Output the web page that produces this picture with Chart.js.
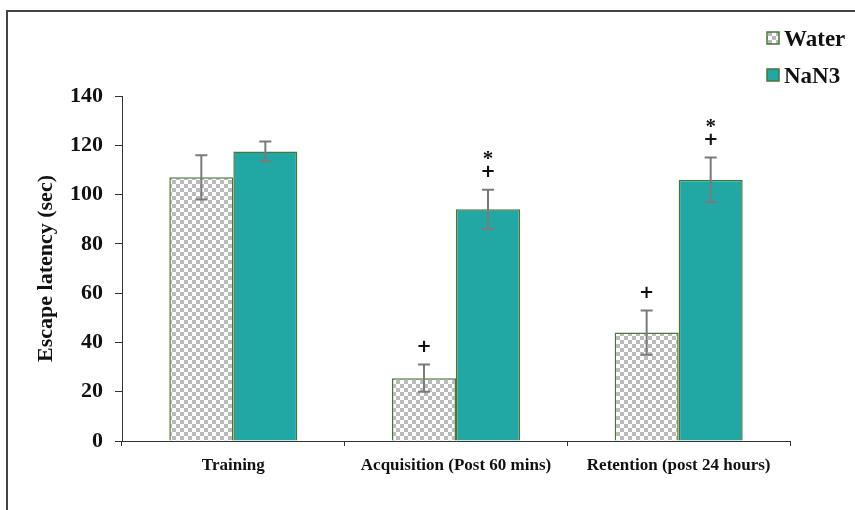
<!DOCTYPE html>
<html>
<head>
<meta charset="utf-8">
<script src="https://cdn.jsdelivr.net/npm/chart.js@4.4.1/dist/chart.umd.min.js"></script>
<style>
  html, body { margin: 0; padding: 0; background: #ffffff; }
  #wrap { width: 855px; height: 510px; position: relative; }
</style>
</head>
<body>
<div id="wrap"><canvas id="c" width="855" height="510"></canvas></div>
<script>
// Escape latency per phase, mean ± error
const categories = ['Training', 'Acquisition (Post 60 mins)', 'Retention (post 24 hours)'];
const seriesNames = ['Water', 'NaN3'];
const waterValues = [107, 25.5, 44];
const waterErrors = [9, 5.5, 9];
const nan3Values = [117.5, 94, 106];
const nan3Errors = [4, 8, 9];
// significance markers, listed bottom to top
const waterMarks = [[], ['+'], ['+']];
const nan3Marks = [[], ['+', '*'], ['+', '*']];
const yTicks = [0, 20, 40, 60, 80, 100, 120, 140];

const SERIF = '"Liberation Serif", "Times New Roman", Times, serif';
const SANS = '"DejaVu Sans", Arial, sans-serif';
const TEAL = '#21a8a4';
const EDGE = '#4a7538';

function checkerPattern(cell) {
  const c = document.createElement('canvas');
  c.width = c.height = cell * 2;
  const g = c.getContext('2d');
  g.fillStyle = '#ffffff';
  g.fillRect(0, 0, cell * 2, cell * 2);
  g.fillStyle = '#bababa';
  g.fillRect(0, 0, cell, cell);
  g.fillRect(cell, cell, cell, cell);
  return g.createPattern(c, 'repeat');
}
const ctx0 = document.getElementById('c').getContext('2d');
const checker = checkerPattern(4);

const errorsByDataset = [waterErrors, nan3Errors];
const marksByDataset = [waterMarks, nan3Marks];

// outer frame lines (top and left)
const framePlugin = {
  id: 'frame',
  beforeDraw(chart) {
    const g = chart.ctx;
    g.save();
    g.strokeStyle = '#444444';
    g.lineWidth = 2;
    g.beginPath();
    g.moveTo(7, 510);
    g.lineTo(7, 11);
    g.lineTo(855, 11);
    g.stroke();
    g.restore();
  }
};

// error whiskers and significance markers
const errorBarPlugin = {
  id: 'errorBars',
  afterDatasetsDraw(chart) {
    const g = chart.ctx;
    const y = chart.scales.y;
    g.save();
    chart.data.datasets.forEach((ds, i) => {
      const meta = chart.getDatasetMeta(i);
      meta.data.forEach((bar, j) => {
        const v = ds.data[j];
        const e = errorsByDataset[i][j];
        const top = y.getPixelForValue(v + e);
        const bot = y.getPixelForValue(v - e);
        const x = bar.x;
        g.strokeStyle = '#7a7a7a';
        g.lineWidth = 2;
        g.beginPath();
        g.moveTo(x, top); g.lineTo(x, bot);
        g.moveTo(x - 6, top); g.lineTo(x + 6, top);
        g.moveTo(x - 6, bot); g.lineTo(x + 6, bot);
        g.stroke();
        const marks = marksByDataset[i][j];
        g.fillStyle = '#111111';
        g.textAlign = 'center';
        g.textBaseline = 'middle';
        marks.forEach((m, k) => {
          if (m === '+') {
            g.font = 'bold 18px ' + SANS;
            g.fillText(m, x, top - 17 - k * 15);
          } else {
            g.font = 'bold 21px ' + SERIF;
            g.fillText(m, x, top - 30 - (k - 1) * 15);
          }
        });
      });
    });
    g.restore();
  }
};

// legend in the top right corner
const legendPlugin = {
  id: 'cornerLegend',
  afterDraw(chart) {
    const g = chart.ctx;
    const fills = [checker, TEAL];
    const rows = [38, 75];
    g.save();
    seriesNames.forEach((name, i) => {
      const cy = rows[i];
      g.fillStyle = fills[i];
      g.fillRect(767, cy - 6, 12, 12);
      g.strokeStyle = EDGE;
      g.lineWidth = 1.5;
      g.strokeRect(767, cy - 6, 12, 12);
      g.fillStyle = '#111111';
      g.font = 'bold 23px ' + SERIF;
      g.textAlign = 'left';
      g.textBaseline = 'middle';
      g.fillText(name, 784, cy + 2);
    });
    g.restore();
  }
};

new Chart(ctx0, {
  type: 'bar',
  data: {
    labels: categories,
    datasets: [
      { label: seriesNames[0], data: waterValues, backgroundColor: checker, borderColor: EDGE, borderWidth: 1.5 },
      { label: seriesNames[1], data: nan3Values, backgroundColor: TEAL, borderColor: EDGE, borderWidth: 1.5 }
    ]
  },
  options: {
    responsive: false,
    devicePixelRatio: 1,
    animation: false,
    categoryPercentage: 0.575,
    barPercentage: 1,
    layout: { padding: { left: 0, right: 65, top: 96, bottom: 0 } },
    plugins: { legend: { display: false }, tooltip: { enabled: false } },
    scales: {
      x: {
        grid: { offset: true, drawOnChartArea: false, drawTicks: true, tickLength: 5, color: '#333333' },
        border: { display: true, color: '#333333', width: 1 },
        ticks: { color: '#111111', font: { family: SERIF, size: 17, weight: 'bold' }, padding: 9, maxRotation: 0, autoSkip: false },
        afterFit(s) { s.height = 69; }
      },
      y: {
        min: 0,
        max: 140,
        afterBuildTicks(s) { s.ticks = yTicks.map(v => ({ value: v })); },
        grid: { drawOnChartArea: false, drawTicks: true, tickLength: 7, color: '#333333' },
        border: { display: true, color: '#333333', width: 1 },
        ticks: { color: '#111111', font: { family: SERIF, size: 22, weight: 'bold' }, padding: 12 },
        title: { display: true, text: 'Escape latency (sec)', color: '#111111', font: { family: SERIF, size: 22, weight: 'bold' }, padding: { top: 33, bottom: 0 } },
        afterFit(s) { s.width = 122; }
      }
    }
  },
  plugins: [framePlugin, errorBarPlugin, legendPlugin]
});
</script>
</body>
</html>
